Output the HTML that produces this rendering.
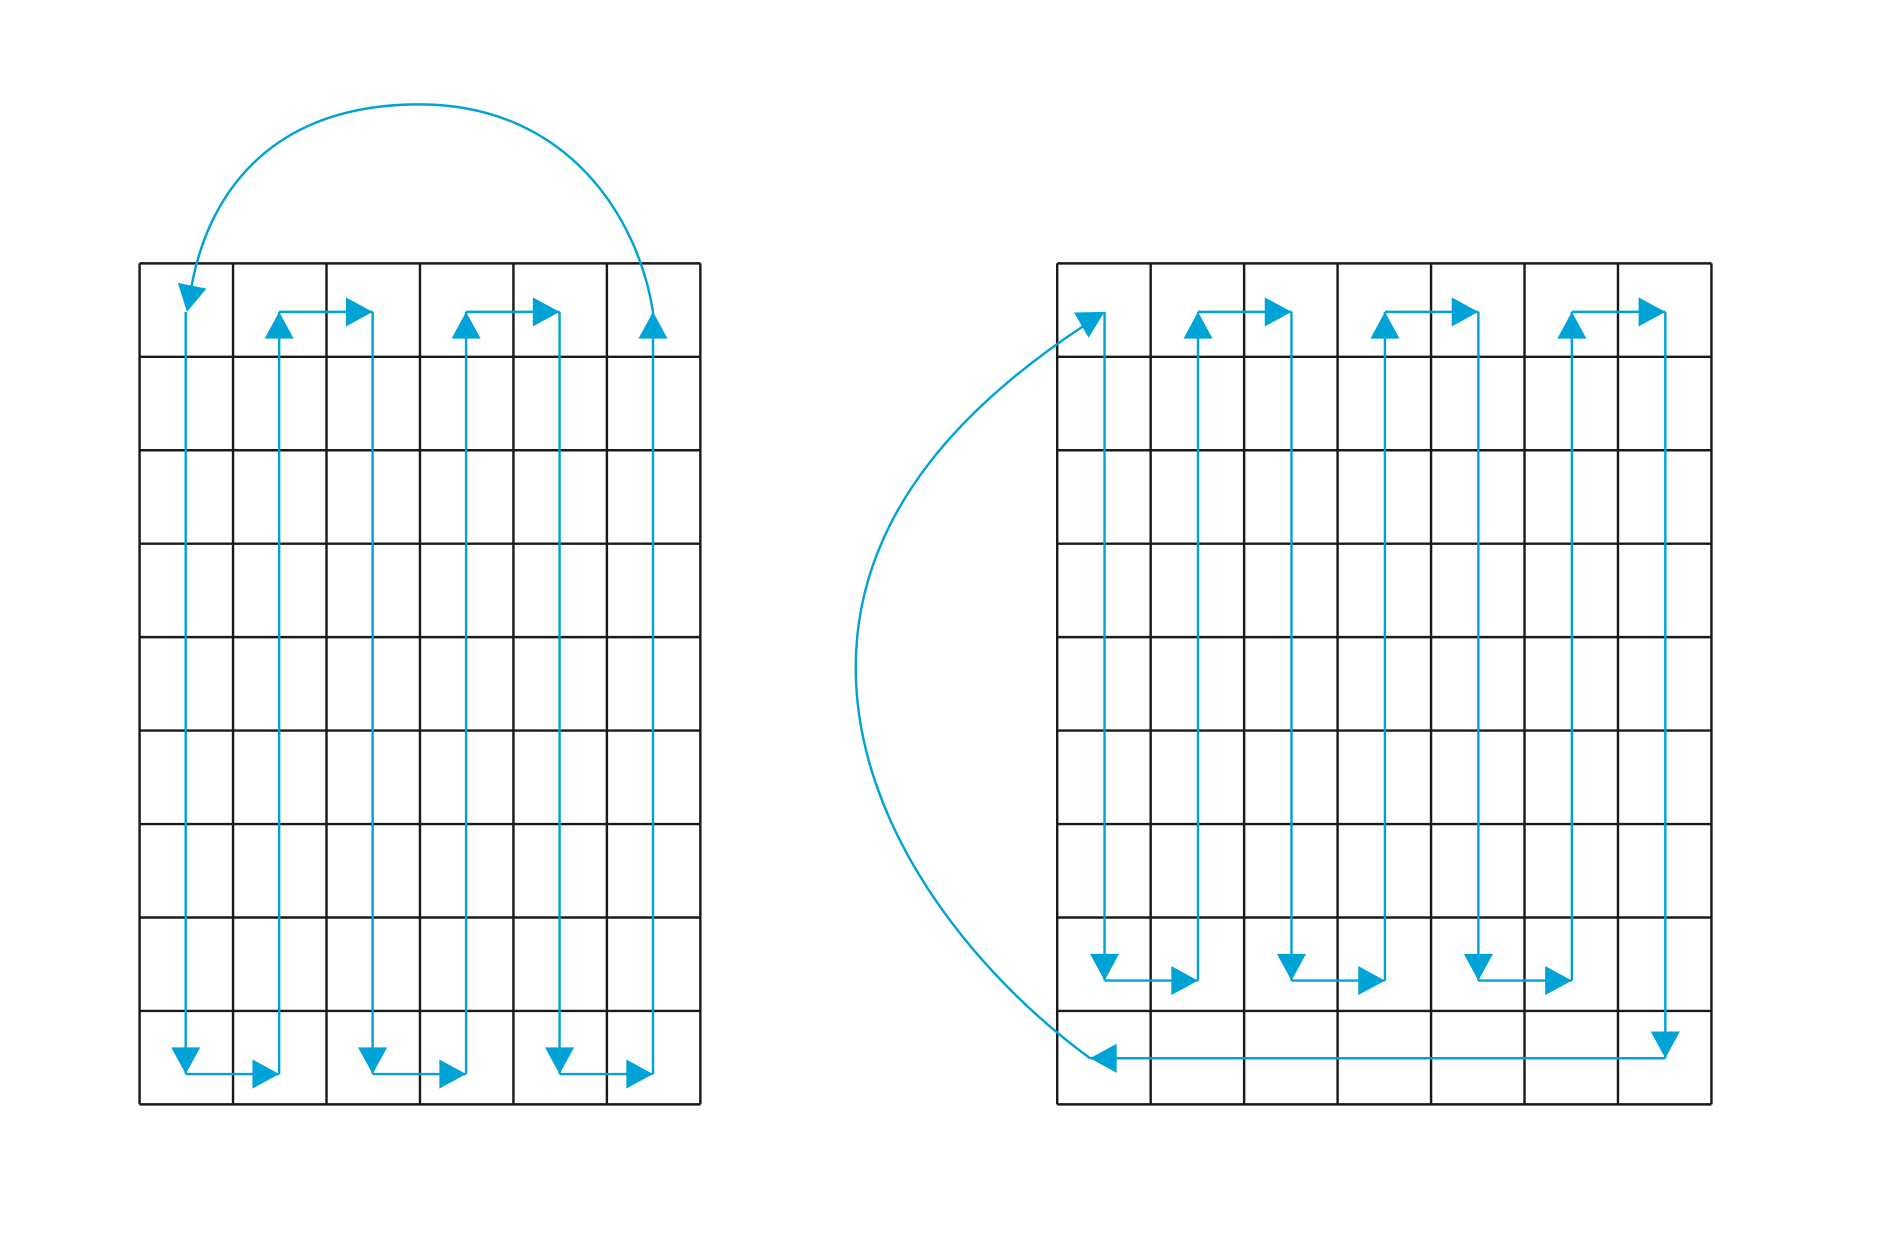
<!DOCTYPE html>
<html><head><meta charset="utf-8"><style>html,body{margin:0;padding:0;background:#fff}svg{display:block}</style></head>
<body>
<svg id="chart" width="1902" height="1250" viewBox="0 0 1567 1030" preserveAspectRatio="none" xmlns="http://www.w3.org/2000/svg">
<g id="grids"></g><g id="paths"></g>
</svg>
<script>
// grid definitions (in cell counts)
const leftCols = 6;
const rightCols = 7;
const gridRows = 9;
// scan order: column indices visited in the left and right diagrams
const leftScan = [0,1,2,3,4,5];
const rightScan = [0,1,2,3,4,5,6];

const NS = 'http://www.w3.org/2000/svg';
const CELL = 77, TOP = 217, BLUE = '#00a3d6';
const grids = document.getElementById('grids');
const paths = document.getElementById('paths');
function mk(tag, attrs, parent){const e=document.createElementNS(NS,tag);for(const k in attrs)e.setAttribute(k,attrs[k]);parent.appendChild(e);return e;}
function drawGrid(x0, cols, rows, name){
  const g = mk('g',{},grids);
  
  
  for(let i=0;i<=cols;i++){const l=mk('line',{x1:x0+i*CELL,y1:TOP,x2:x0+i*CELL,y2:TOP+rows*CELL,stroke:'#1a1a1a','stroke-width':2},g);
    
    }
  for(let j=0;j<=rows;j++){const l=mk('line',{x1:x0,y1:TOP+j*CELL,x2:x0+cols*CELL,y2:TOP+j*CELL,stroke:'#1a1a1a','stroke-width':2},g);
    
    }
}
function seg(x1,y1,x2,y2,head){
  const l=mk('line',{x1,y1,x2,y2,stroke:BLUE,'stroke-width':2},paths);
  
  
  if(head){arrow(x2,y2,Math.atan2(y2-y1,x2-x1));}
}
function arrow(x,y,ang){
  const L=22,W=12,c=Math.cos(ang),s=Math.sin(ang);
  const bx=x-L*c,by=y-L*s;
  const p=mk('polygon',{points:`${x},${y} ${bx-W*s},${by+W*c} ${bx+W*s},${by-W*c}`,fill:BLUE},paths);
  
  
}
function curve(d){const p=mk('path',{d,fill:'none',stroke:BLUE,'stroke-width':2},paths);
  
  }

// left diagram
const LX=115; drawGrid(LX,leftCols,gridRows,'left-grid');
const yTop=TOP+40, yBotL=TOP+gridRows*CELL-25;
leftScan.forEach((c,i)=>{
  const x=LX+c*CELL+38;
  if(i%2===0){seg(x,yTop,x,yBotL,true); if(i+1<leftScan.length) seg(x,yBotL,x+CELL,yBotL,true);}
  else{seg(x,yBotL,x,yTop,true); if(i+1<leftScan.length) seg(x,yTop,x+CELL,yTop,true);}
});
const lLast=LX+leftScan[leftScan.length-1]*CELL+38, lFirst=LX+leftScan[0]*CELL+38;
curve(`M${lLast},${yTop} C${lLast-12},180 ${lLast-70},86 ${(lLast+lFirst)/2},86 C${lFirst+70},86 ${lFirst+15},160 ${lFirst+3},${yTop-10}`);
arrow(lFirst+1,yTop,Math.atan2(20,-4));

// right diagram
const RX=871; drawGrid(RX,rightCols,gridRows,'right-grid');
const yBotR=TOP+7*CELL+52, yLast=TOP+8*CELL+39;
rightScan.forEach((c,i)=>{
  const x=RX+c*CELL+39;
  const last=i===rightScan.length-1;
  if(i%2===0){seg(x,yTop,x,last?yLast:yBotR,true); if(!last) seg(x,yBotR,x+CELL,yBotR,true);}
  else{seg(x,yBotR,x,yTop,true); if(!last) seg(x,yTop,x+CELL,yTop,true);}
});
const rLast=RX+rightScan[rightScan.length-1]*CELL+39, rFirst=RX+rightScan[0]*CELL+39;
seg(rLast,yLast,rFirst-12,yLast,true);
curve(`M${rFirst-12},${yLast} C800,800 705,680 705,550 C705,420 800,330 ${rFirst-18},${yTop+12}`);
arrow(rFirst,yTop,Math.atan2(-8,14));
</script>
</body></html>
